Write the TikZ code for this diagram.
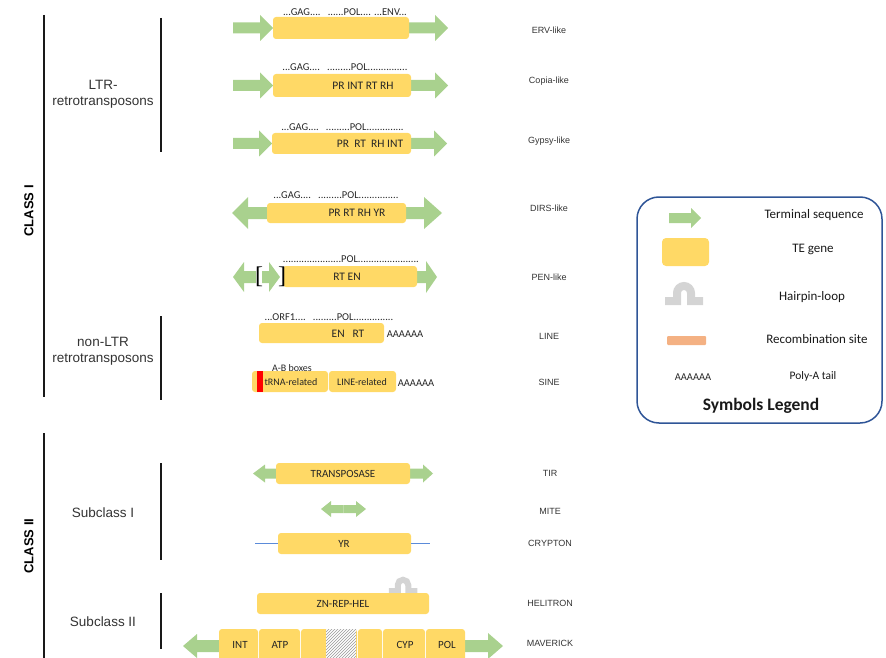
\documentclass[tikz,border=0pt]{standalone}
\usepackage{fontspec}
\setmainfont{Carlito}
\newfontfamily\arialfont{Liberation Sans}
\newfontfamily\serifont{Liberation Serif}
\usetikzlibrary{patterns}

\definecolor{tegold}{HTML}{FFD966}
\definecolor{tsgreen}{HTML}{A9D18E}
\definecolor{salmon}{HTML}{F4B183}
\definecolor{hairgray}{HTML}{D4D4D4}
\definecolor{cryptblue}{HTML}{5B8BD9}
\definecolor{legblue}{HTML}{2F5597}

% terminal sequence: tail x, tip x, y, head length, head half width, shaft half width
\newcommand{\tsarrow}[6]{%
  \pgfmathsetmacro\tsbase{#2-#4*sign(#2-#1)}%
  \fill[tsgreen] (#1,#3-#6) -- (\tsbase,#3-#6) -- (\tsbase,#3-#5) -- (#2,#3)
    -- (\tsbase,#3+#5) -- (\tsbase,#3+#6) -- (#1,#3+#6) -- cycle;}

\tikzset{%
  % Specifications for style of nodes:
        tegene/.style = {rectangle, rounded corners=3pt, fill=tegold, inner sep=0pt},
       genetxt/.style = {font=\fontsize{11.5}{13}\selectfont, text=black!85, inner sep=0pt},
        orftxt/.style = {font=\fontsize{10.5}{12}\selectfont, text=black!85, inner sep=0pt},
      rowlabel/.style = {font=\arialfont\fontsize{9}{11}\selectfont, text=black!80, inner sep=0pt},
    grouplabel/.style = {font=\arialfont\fontsize{13.5}{16}\selectfont, text=black!80,
                         align=center, inner sep=0pt},
    classlabel/.style = {font=\arialfont\bfseries\fontsize{13}{15}\selectfont, rotate=90, inner sep=0pt},
       bracket/.style = {font=\serifont\fontsize{24}{24}\selectfont, inner sep=0pt},
        legtxt/.style = {font=\fontsize{13}{15}\selectfont, text=black!90, inner sep=0pt},
           bar/.style = {line width=1.2pt, black!90},
     cryptline/.style = {draw=cryptblue, line width=1pt},
      hairline/.style = {draw=hairgray, line width=8pt},
       hairpin/.pic   = {\draw[hairline] (-19,-4) -- (-7,-4) -- (-7,-12) arc (180:360:7) -- (7,-4) -- (19,-4);},
}

\begin{document}
\begin{tikzpicture}[x=1pt, y=-1pt]
  \useasboundingbox (0,0) rectangle (886,658);
  \clip (0,0) rectangle (886,658);

  % Classes and subgroups
  \draw[bar] (44,15) -- (44,397);
  \node[classlabel] (class1) at (29,211) {CLASS I};
  \draw[bar] (161,18) -- (161,152);
  \node[grouplabel] (ltr) at (103,94) {LTR-\\retrotransposons};
  \draw[bar] (161,316) -- (161,400);
  \node[grouplabel] (nonltr) at (103,351) {non-LTR\\retrotransposons};
  \draw[bar] (44,433) -- (44,658);
  \node[classlabel] (class2) at (29,546) {CLASS II};
  \draw[bar] (161,463) -- (161,560);
  \node[grouplabel] (sub1) at (103,513) {Subclass I};
  \draw[bar] (161,593) -- (161,649);
  \node[grouplabel] (sub2) at (103,622) {Subclass II};

  % ERV-like
  \tsarrow{233}{273}{28}{13}{13}{5.5}
  \tsarrow{409}{448}{28}{13}{13}{5.5}
  \node[tegene, minimum width=136pt, minimum height=22pt] (erv) at (341,28) {};
  \node[orftxt] (ervorf) at (345,12) {...GAG....\ \ \ ......POL.... ...ENV...};
  \node[rowlabel] (ervlab) at (549,30) {ERV-like};

  % Copia-like
  \tsarrow{233}{273}{85.5}{13}{13}{5.5}
  \tsarrow{411}{448}{85.5}{13}{13}{5.5}
  \node[tegene, minimum width=138pt, minimum height=23pt] (copia) at (342,85.5) {};
  \node[genetxt] (copiagenes) at (363,86) {PR INT RT RH};
  \node[orftxt] (copiaorf) at (345,67) {...GAG....\ \ \ .........POL...............};
  \node[rowlabel] (copialab) at (549,81) {Copia-like};

  % Gypsy-like
  \tsarrow{233}{272}{143.5}{13}{13}{5.5}
  \tsarrow{411}{447}{143.5}{13}{13}{5.5}
  \node[tegene, minimum width=139pt, minimum height=21pt] (gypsy) at (341.5,143.5) {};
  \node[genetxt] (gypsygenes) at (370,144) {PR\ \ RT\ \ RH INT};
  \node[orftxt] (gypsyorf) at (342.5,127) {...GAG....\ \ \ .........POL..............};
  \node[rowlabel] (gypsylab) at (549,141) {Gypsy-like};

  % DIRS-like
  \tsarrow{267}{232}{213}{16}{16}{6}
  \tsarrow{406}{442}{213}{18}{16}{6}
  \node[tegene, minimum width=139pt, minimum height=20pt] (dirs) at (336.5,213) {};
  \node[genetxt] (dirsgenes) at (357,213) {PR RT RH YR};
  \node[orftxt] (dirsorf) at (336,195) {...GAG....\ \ \ .........POL...............};
  \node[rowlabel] (dirslab) at (549,208) {DIRS-like};

  % PEN-like
  \tsarrow{256}{233}{277}{11}{15}{6}
  \tsarrow{262}{280}{277}{11}{15}{6}
  \tsarrow{417}{437}{277}{11}{16}{6}
  \node[tegene, minimum width=134pt, minimum height=21pt] (pen) at (350,276.5) {};
  \node[bracket] (penopen) at (259,277) {[};
  \node[bracket] (penclose) at (282,277) {]};
  \node[genetxt] (pengenes) at (347,277) {RT EN};
  \node[orftxt] (penorf) at (351,259) {......................POL.......................};
  \node[rowlabel] (penlab) at (549,277) {PEN-like};

  % LINE
  \node[tegene, minimum width=125pt, minimum height=20pt] (line) at (321.5,333) {};
  \node[genetxt] (linegenes) at (348,334) {EN\ \ \ RT};
  \node[orftxt] (linepoly) at (405,334) {AAAAAA};
  \node[orftxt] (lineorf) at (329,317) {...ORF1....\ \ \ .........POL...............};
  \node[rowlabel] (linelab) at (549,336) {LINE};

  % SINE
  \node[tegene, minimum width=76pt, minimum height=21pt] (trna) at (290,381.5) {};
  \fill[red] (257,371) rectangle (263,392);
  \node[tegene, minimum width=67pt, minimum height=21pt] (linerel) at (362.5,381.5) {};
  \node[orftxt, font=\fontsize{10}{12}\selectfont] (abbox) at (292,368) {A-B boxes};
  \node[orftxt, font=\fontsize{10}{12}\selectfont] (trnatxt) at (291,382) {tRNA-related};
  \node[orftxt, font=\fontsize{10}{12}\selectfont] (linereltxt) at (362,382) {LINE-related};
  \node[orftxt] (sinepoly) at (416,383) {AAAAAA};
  \node[rowlabel] (sinelab) at (549,382) {SINE};

  % TIR
  \tsarrow{276}{253}{473.5}{12}{9}{5}
  \tsarrow{410}{433}{473.5}{10}{9}{5}
  \node[tegene, minimum width=134pt, minimum height=21pt] (tir) at (343,473.5) {};
  \node[genetxt, font=\fontsize{11}{13}\selectfont] (tirgenes) at (343,474) {TRANSPOSASE};
  \node[rowlabel] (tirlab) at (550,473) {TIR};

  % MITE
  \tsarrow{343.5}{321}{509}{10}{8}{4}
  \tsarrow{343.5}{366}{509}{10}{8}{4}
  \node[rowlabel] (mitelab) at (550,511) {MITE};

  % CRYPTON
  \node[tegene, minimum width=133pt, minimum height=21pt] (crypton) at (344.5,543.5) {};
  \draw[cryptline] (255,543.5) -- (crypton.west);
  \draw[cryptline] (crypton.east) -- (430,543.5);
  \node[genetxt, font=\fontsize{11}{13}\selectfont] (cryptongenes) at (344,544) {YR};
  \node[rowlabel] (cryptonlab) at (550,543) {CRYPTON};

  % HELITRON
  \pic[scale=.75, hairline/.append style={line width=6pt}] at (403,594) {hairpin};
  \node[tegene, minimum width=172pt, minimum height=21pt] (helitron) at (343,603.5) {};
  \node[genetxt, font=\fontsize{11}{13}\selectfont] (helitrongenes) at (343,604) {ZN-REP-HEL};
  \node[rowlabel] (helitronlab) at (550,603) {HELITRON};

  % MAVERICK
  \tsarrow{219}{183}{646}{14}{12}{6}
  \tsarrow{465}{503}{646}{15}{13}{6}
  \node[tegene, minimum width=39pt, minimum height=34pt] (mavint) at (238.5,646) {};
  \node[tegene, minimum width=41pt, minimum height=34pt] (mavatp) at (279.5,646) {};
  \node[tegene, minimum width=56pt, minimum height=34pt] (mavmid) at (329,646) {};
  \fill[white] (326,629) rectangle (356,663);
  \fill[pattern=north east lines, pattern color=gray!80] (326,629) rectangle (356,663);
  \node[tegene, minimum width=24pt, minimum height=34pt] (mavgap) at (370,646) {};
  \node[tegene, minimum width=42pt, minimum height=34pt] (mavcyp) at (404,646) {};
  \node[tegene, minimum width=39pt, minimum height=34pt] (mavpol) at (445.5,646) {};
  \node[genetxt, font=\fontsize{11}{13}\selectfont] (inttxt) at (240,645) {INT};
  \node[genetxt, font=\fontsize{11}{13}\selectfont] (atptxt) at (280,645) {ATP};
  \node[genetxt, font=\fontsize{11}{13}\selectfont] (cyptxt) at (405,645) {CYP};
  \node[genetxt, font=\fontsize{11}{13}\selectfont] (poltxt) at (447,645) {POL};
  \node[rowlabel] (mavericklab) at (550,643) {MAVERICK};

  % Symbols legend
  \node[draw=legblue, line width=1.5pt, rounded corners=22pt,
        minimum width=245pt, minimum height=226pt] (legend) at (759.5,310) {};
  \tsarrow{669}{701}{218}{10}{10}{5}
  \node[tegene, rounded corners=4pt, minimum width=47pt, minimum height=28pt] (leggene) at (685.5,252) {};
  \pic at (684,305) {hairpin};
  \node[fill=salmon, rounded corners=1pt, minimum width=39pt, minimum height=9pt, inner sep=0pt] (legrec) at (686.5,340.5) {};
  \node[orftxt] (legpoly) at (693,377) {AAAAAA};
  \node[legtxt] (legterm) at (814,215) {Terminal sequence};
  \node[legtxt] (leggenetxt) at (813,249) {TE gene};
  \node[legtxt] (leghair) at (812,297) {Hairpin-loop};
  \node[legtxt] (legrectxt) at (817,339) {Recombination site};
  \node[legtxt, font=\fontsize{11.5}{13}\selectfont] (legpolytxt) at (813,376) {Poly-A tail};
  \node[legtxt, font=\bfseries\fontsize{17.5}{20}\selectfont] (legtitle) at (761,406) {Symbols Legend};
\end{tikzpicture}
\end{document}
